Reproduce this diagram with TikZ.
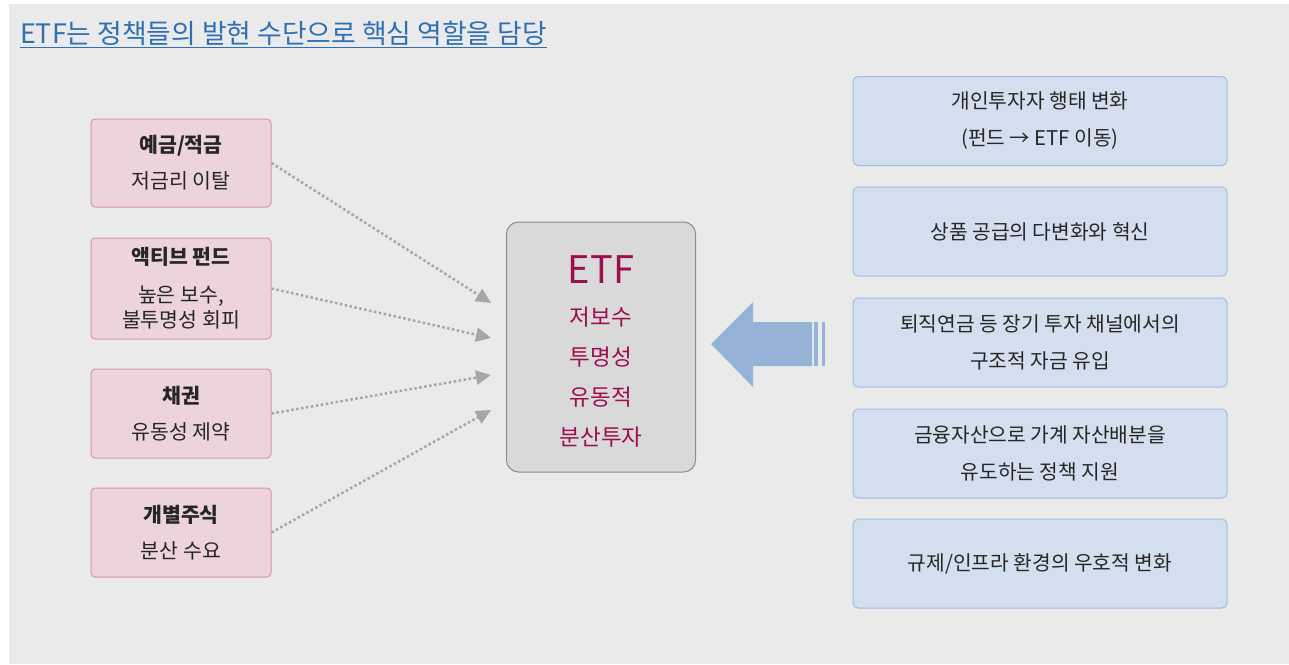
\documentclass[tikz,border=0pt]{standalone}
\usepackage{fontspec}
\setmainfont{Noto Sans CJK KR}
\usetikzlibrary{arrows.meta,positioning}
\definecolor{bgGray}{HTML}{EAEAEA}
\definecolor{titleBlue}{HTML}{2E70B2}
\definecolor{darkText}{HTML}{262626}
\definecolor{pinkFill}{HTML}{EDD3DD}
\definecolor{pinkLine}{HTML}{D796AC}
\definecolor{etfFill}{HTML}{D9D9D9}
\definecolor{etfLine}{HTML}{8C8C8C}
\definecolor{etfText}{HTML}{9B0E50}
\definecolor{blueFill}{HTML}{D3DFEE}
\definecolor{blueLine}{HTML}{A2BCDF}
\definecolor{bigArrow}{HTML}{95B3D7}
\definecolor{dotGray}{HTML}{A6A6A6}
\tikzset{
  srcbox/.style={draw=pinkLine, fill=pinkFill, rounded corners=4pt, line width=1pt,
    minimum width=180pt, inner sep=0pt, align=center, text=darkText,
    font=\fontsize{20.5}{25}\selectfont},
  etfbox/.style={draw=etfLine, fill=etfFill, rounded corners=12pt, line width=1pt,
    minimum width=189pt, minimum height=250pt, inner sep=0pt},
  etflabel/.style={inner sep=0pt, align=center, text=etfText,
    font=\fontsize{22.5}{40}\selectfont},
  policy/.style={draw=blueLine, fill=blueFill, rounded corners=5pt, line width=1pt,
    minimum width=374pt, minimum height=89pt, inner sep=0pt, align=center, text=darkText,
    font=\fontsize{20.3}{37}\selectfont},
  flow/.style={dotGray, line width=2.5pt, dash pattern=on 2.5pt off 2.5pt,
    -{Triangle[length=15pt,width=14pt]}}
}
\begin{document}
\begin{tikzpicture}[x=1pt,y=-1pt]
  \useasboundingbox (0,0) rectangle (1289,664);
  \fill[white] (0,0) rectangle (1289,664);
  \fill[bgGray] (9,4) rectangle (1289,664);

  \node[anchor=base west, inner sep=0pt, text=titleBlue, font=\fontsize{26.8}{30}\selectfont] (title) at (20,43)
    {ETF는 정책들의 발현 수단으로 핵심 역할을 담당};
  \draw[titleBlue, line width=1pt] ([yshift=-4pt]title.base west) -- ([yshift=-4pt]title.base east);

  \node[srcbox, minimum height=88pt] (deposit) at (181,163) {\textbf{예금/적금}\\[11pt]저금리 이탈};
  \node[srcbox, minimum height=101pt] (active) at (181,288.5) {\textbf{액티브 펀드}\\[13pt]높은 보수,\\불투명성 회피};
  \node[srcbox, minimum height=89pt] (bond) at (181,413.5) {\textbf{채권}\\[11pt]유동성 제약};
  \node[srcbox, minimum height=89pt] (stock) at (181,532.5) {\textbf{개별주식}\\[11pt]분산 수요};

  \node[etfbox] (etf) at (601,347) {};
  \node[etflabel] (etfname) at ([yshift=-4pt]etf.center) {{\fontsize{38}{46}\selectfont ETF}\\[2pt]저보수\\투명성\\유동적\\분산투자};

  \node[policy] (shift) at (1040,121) {개인투자자 행태 변화\\(펀드 → ETF 이동)};
  \node[policy] (supply) at (1040,231.5) {상품 공급의 다변화와 혁신};
  \node[policy] (pension) at (1040,342.5) {퇴직연금 등 장기 투자 채널에서의\\구조적 자금 유입};
  \node[policy] (support) at (1040,453.5) {금융자산으로 가계 자산배분을\\유도하는 정책 지원};
  \node[policy] (regul) at (1040,563.5) {규제/인프라 환경의 우호적 변화};

  \coordinate (t1) at (491,303);
  \coordinate (t2) at (491,338);
  \coordinate (t3) at (491,375);
  \coordinate (t4) at (491,410);
  \draw[flow] (deposit.east) -- (t1);
  \draw[flow] (active.east) -- (t2);
  \draw[flow] (bond.east) -- (t3);
  \draw[flow] (stock.east) -- (t4);

  \fill[bigArrow] (812,322) -- (753,322) -- (753,302) -- (711,344) -- (753,387) -- (753,366) -- (812,366) -- cycle;
  \fill[bigArrow] (814,322) rectangle (818,366);
  \fill[bigArrow] (822,322) rectangle (825,366);
\end{tikzpicture}
\end{document}
